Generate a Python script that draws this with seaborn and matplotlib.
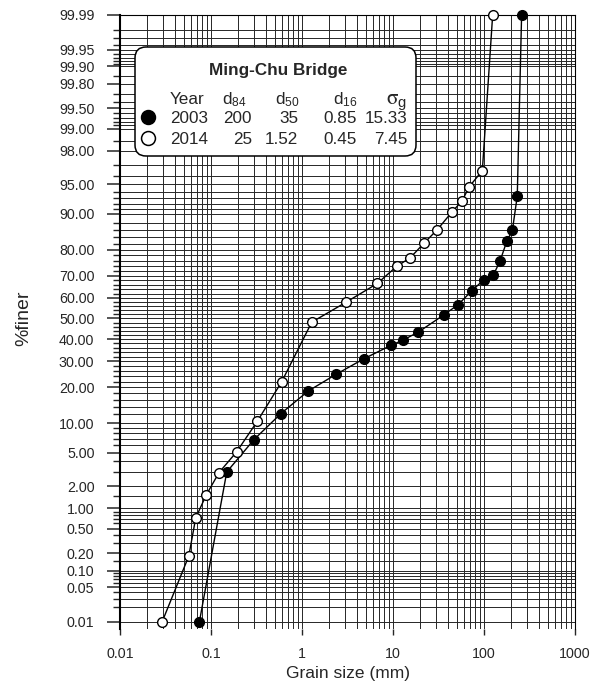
from statistics import NormalDist
import numpy as np
import pandas as pd
import matplotlib
matplotlib.use('Agg')
import matplotlib.pyplot as plt
import matplotlib.ticker as mticker
from matplotlib.patches import FancyBboxPatch
from matplotlib.lines import Line2D
from matplotlib.transforms import Affine2D
import seaborn as sns

# grain size distributions (mm, % finer)
size_2003 = [0.0745, 0.149, 0.297, 0.587, 1.17, 2.37, 4.80, 9.5, 12.8, 19.0,
             36.6, 52.2, 73.8, 100, 126, 150, 178, 205, 232, 259]
finer_2003 = [0.01, 3.0, 6.9, 12.2, 18.7, 24.7, 31.1, 37.1, 39.5, 43.4,
              51.9, 56.8, 63.4, 68.3, 70.1, 75.9, 82.8, 86.0, 93.3, 99.99]

size_2014 = [0.029, 0.057, 0.068, 0.0887, 0.1225, 0.191, 0.323, 0.598, 1.28, 3.05,
             6.73, 11.0, 15.4, 22.1, 30.7, 44.9, 57.3, 69.0, 95.9, 124.5]
finer_2014 = [0.01, 0.18, 0.73, 1.53, 2.95, 5.1, 10.4, 21.9, 48.2, 57.9,
              66.6, 73.9, 77.1, 82.3, 86.2, 90.5, 92.5, 94.7, 96.5, 99.99]

# legend table
legend_title = 'Ming-Chu Bridge'
years = ['2003', '2014']
d84 = ['200', '25']
d50 = ['35', '1.52']
d16 = ['0.85', '0.45']
sigma_g = ['15.33', '7.45']

# probability axis ticks
y_major = [0.01, 0.05, 0.1, 0.2, 0.5, 1, 2, 5, 10, 20, 30, 40, 50,
           60, 70, 80, 90, 95, 98, 99, 99.5, 99.8, 99.9, 99.95, 99.99]
y_minor_low = [0.02, 0.03, 0.04, 0.06, 0.07, 0.08, 0.09, 0.15, 0.3, 0.4,
               0.6, 0.7, 0.8, 0.9, 1.5, 3, 4, 6, 7, 8, 9,
               12, 14, 16, 18, 22, 24, 26, 28, 32, 34, 36, 38, 42, 44, 46, 48]
y_minor = sorted(y_minor_low + [round(100 - v, 4) for v in y_minor_low])
x_major = [0.01, 0.1, 1, 10, 100, 1000]

df = pd.concat([
    pd.DataFrame({'size': size_2003, 'finer': finer_2003, 'year': '2003'}),
    pd.DataFrame({'size': size_2014, 'finer': finer_2014, 'year': '2014'}),
])

_nd = NormalDist()
_ppf = np.vectorize(_nd.inv_cdf, otypes=[float])
_cdf = np.vectorize(_nd.cdf, otypes=[float])


def prob_fwd(p):
    p = np.clip(np.asarray(p, dtype=float), 1e-7, 100 - 1e-7)
    return _ppf(p / 100.0)


def prob_inv(z):
    return 100.0 * _cdf(np.asarray(z, dtype=float))


sns.set_style('white')
plt.rcParams['font.family'] = ['Liberation Sans', 'DejaVu Sans']
plt.rcParams['mathtext.fontset'] = 'stix'
plt.rcParams['mathtext.default'] = 'regular'

W, H = 592, 686
fig = plt.figure(figsize=(W / 100, H / 100), dpi=100)
ax = fig.add_axes([120 / W, 1 - 629 / H, 455 / W, 614 / H])

ax.set_xscale('log')
ax.set_yscale('function', functions=(prob_fwd, prob_inv))

for yr, face in [('2003', 'black'), ('2014', 'white')]:
    sns.lineplot(data=df[df['year'] == yr], x='size', y='finer', ax=ax,
                 estimator=None, sort=False, color='black', linewidth=1.0,
                 marker='o', markersize=7, markerfacecolor=face,
                 markeredgecolor='black', markeredgewidth=1.0,
                 clip_on=False, zorder=5, legend=False)

ax.set_xlim(0.01, 1000)
ax.set_ylim(100 * _nd.cdf(-3.805), 99.99)

ax.yaxis.set_major_locator(mticker.FixedLocator(y_major))
ax.yaxis.set_minor_locator(mticker.FixedLocator(y_minor))
ax.yaxis.set_major_formatter(mticker.FuncFormatter(lambda v, p: f'{v:.2f}'))
ax.yaxis.set_minor_formatter(mticker.NullFormatter())
ax.xaxis.set_major_locator(mticker.FixedLocator(x_major))
ax.xaxis.set_minor_locator(mticker.LogLocator(base=10, subs=range(2, 10), numticks=50))
ax.xaxis.set_major_formatter(mticker.FuncFormatter(lambda v, p: f'{v:g}'))
ax.xaxis.set_minor_formatter(mticker.NullFormatter())

ax.grid(True, which='both', color='#262626', linewidth=0.7)
ax.set_axisbelow(True)

ax.tick_params(axis='y', which='major', direction='out', length=9.4, width=1.1,
               pad=9, labelsize=10.3, left=True)
ax.tick_params(axis='y', which='minor', direction='out', length=5, width=1.0, left=True)
ax.tick_params(axis='x', which='major', direction='out', length=4.3, width=1.0,
               pad=9, labelsize=10.3, bottom=True)
ax.tick_params(axis='x', which='minor', length=0)

ax.spines['bottom'].set_visible(False)
ax.spines['left'].set_linewidth(1.5)
ax.spines['top'].set_linewidth(0.8)
ax.spines['right'].set_linewidth(0.8)
for s in ['left', 'top', 'right']:
    ax.spines[s].set_color('black')

ax.set_xlabel('Grain size (mm)', fontsize=12.5)
ax.set_ylabel('%finer', fontsize=14)
ax.xaxis.set_label_coords(0.5, -0.06)
ax.yaxis.set_label_coords(-0.193, 0.5057)

# legend box drawn in pixel coordinates (origin top-left)
px = Affine2D().scale(1 / W, -1 / H).translate(0, 1) + fig.transFigure
box = FancyBboxPatch((135, 47), 281, 109, boxstyle='round,pad=0,rounding_size=11',
                     transform=px, facecolor='white', edgecolor='black',
                     linewidth=1.1, zorder=10)
fig.add_artist(box)

fs = 12.3
fig.text(278, 75, legend_title, transform=px, ha='center', va='baseline',
         fontsize=fs, fontweight='bold', zorder=11)
hdr_y = 104.5
fig.text(170, hdr_y, 'Year', transform=px, ha='left', va='baseline', fontsize=fs, zorder=11)
fig.text(222, hdr_y, r'd$_{84}$', transform=px, ha='left', va='baseline', fontsize=fs, zorder=11)
fig.text(275, hdr_y, r'd$_{50}$', transform=px, ha='left', va='baseline', fontsize=fs, zorder=11)
fig.text(333, hdr_y, r'd$_{16}$', transform=px, ha='left', va='baseline', fontsize=fs, zorder=11)
fig.text(386, hdr_y, r'$\mathrm{\sigma}_{\mathregular{g}}$', transform=px, ha='left',
         va='baseline', fontsize=fs + 3, zorder=11)

row_y = [123, 144]
faces = ['black', 'white']
for i in range(len(years)):
    fig.add_artist(Line2D([148], [row_y[i] - 6.5], transform=px, marker='o', markersize=10,
                          markerfacecolor=faces[i], markeredgecolor='black',
                          markeredgewidth=1.1, linestyle='none', zorder=11))
    fig.text(170, row_y[i], years[i], transform=px, ha='left', va='baseline', fontsize=fs, zorder=11)
    fig.text(252, row_y[i], d84[i], transform=px, ha='right', va='baseline', fontsize=fs, zorder=11)
    fig.text(298, row_y[i], d50[i], transform=px, ha='right', va='baseline', fontsize=fs, zorder=11)
    fig.text(357, row_y[i], d16[i], transform=px, ha='right', va='baseline', fontsize=fs, zorder=11)
    fig.text(407, row_y[i], sigma_g[i], transform=px, ha='right', va='baseline', fontsize=fs, zorder=11)

fig.savefig('out.png', dpi=100)
